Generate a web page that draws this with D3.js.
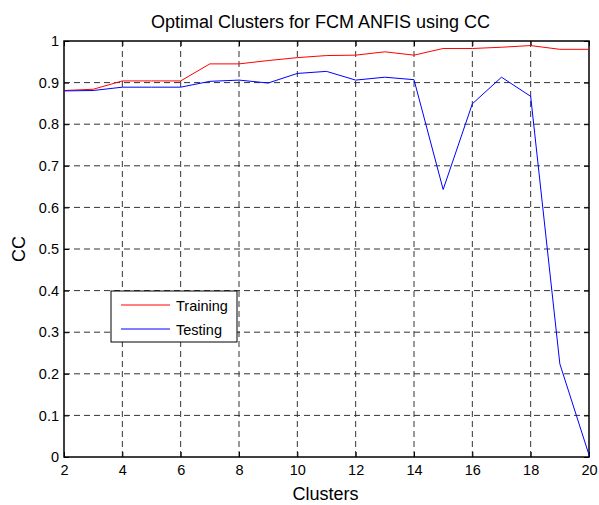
<!DOCTYPE html>
<html><head><meta charset="utf-8">
<script src="https://cdn.jsdelivr.net/npm/d3@7"></script>
<style>body{margin:0;background:#fff}svg{display:block}text{font-family:"Liberation Sans",Arial,sans-serif}</style>
</head><body>
<svg id="c" width="599" height="505"></svg>
<script>
const clusters = [2,3,4,5,6,7,8,9,10,11,12,13,14,15,16,17,18,19,20];
const training = [0.881,0.884,0.904,0.904,0.904,0.945,0.945,0.953,0.960,0.965,0.966,0.974,0.966,0.982,0.982,0.985,0.989,0.980,0.980];
const testing  = [0.880,0.881,0.889,0.889,0.889,0.903,0.906,0.899,0.922,0.927,0.906,0.913,0.907,0.643,0.849,0.913,0.867,0.224,0.005];
const xTicks = [2,4,6,8,10,12,14,16,18,20];
const yTicks = [0,0.1,0.2,0.3,0.4,0.5,0.6,0.7,0.8,0.9,1];

const svg = d3.select("#c");
const L=64, R=589, T=41, B=457;
const x = d3.scaleLinear().domain([2,20]).range([L,R]);
const y = d3.scaleLinear().domain([0,1]).range([B,T]);

// grid
const g = svg.append("g");
g.selectAll(".gx").data(xTicks.slice(1,-1)).join("line")
  .attr("x1",d=>x(d)).attr("x2",d=>x(d)).attr("y1",T).attr("y2",B)
  .attr("stroke","#333").attr("stroke-width",1).attr("stroke-dasharray","6,4");
g.selectAll(".gy").data(yTicks.slice(1,-1)).join("line")
  .attr("x1",L).attr("x2",R).attr("y1",d=>y(d)).attr("y2",d=>y(d))
  .attr("stroke","#333").attr("stroke-width",1).attr("stroke-dasharray","6,4");

// axes
const fmtY = d=>d===0||d===1?String(d):d3.format(".1f")(d);
const ax = svg.append("g").attr("transform",`translate(0,${B})`)
  .call(d3.axisBottom(x).tickValues(xTicks).tickSizeInner(-5).tickSizeOuter(0).tickPadding(8));
const ay = svg.append("g").attr("transform",`translate(${L},0)`)
  .call(d3.axisLeft(y).tickValues(yTicks).tickFormat(fmtY).tickSizeInner(-5).tickSizeOuter(0).tickPadding(5));
const axT = svg.append("g").attr("transform",`translate(0,${T})`)
  .call(d3.axisTop(x).tickValues(xTicks).tickFormat("").tickSizeInner(-5).tickSizeOuter(0));
const ayR = svg.append("g").attr("transform",`translate(${R},0)`)
  .call(d3.axisRight(y).tickValues(yTicks).tickFormat("").tickSizeInner(-5).tickSizeOuter(0));
[ax,ay,axT,ayR].forEach(a=>{
  a.selectAll(".domain").remove();
  a.selectAll("line").attr("stroke","#000");
  a.selectAll("text").attr("font-size",14.5).attr("fill","#000").attr("font-family","Liberation Sans, Arial, sans-serif");
});
svg.append("rect").attr("x",L).attr("y",T).attr("width",R-L).attr("height",B-T)
  .attr("fill","none").attr("stroke","#000").attr("stroke-width",1.5);

// lines
const line = d3.line().x((d,i)=>x(clusters[i])).y(d=>y(d));
svg.append("path").datum(training).attr("d",line).attr("fill","none").attr("stroke","#ff0000").attr("stroke-width",1);
svg.append("path").datum(testing).attr("d",line).attr("fill","none").attr("stroke","#0000ff").attr("stroke-width",1);

// labels
svg.append("text").attr("x",320.5).attr("y",28).attr("text-anchor","middle").attr("font-size",18).text("Optimal Clusters for FCM ANFIS using CC");
svg.append("text").attr("x",325.5).attr("y",500).attr("text-anchor","middle").attr("font-size",18).text("Clusters");
svg.append("text").attr("transform",`translate(25,${(T+B)/2}) rotate(-90)`).attr("text-anchor","middle").attr("font-size",18).text("CC");

// legend
const lg = svg.append("g");
lg.append("rect").attr("x",111).attr("y",291).attr("width",126).attr("height",51).attr("fill","#fff").attr("stroke","#000").attr("stroke-width",1);
const items=[["Training","#ff0000",305],["Testing","#0000ff",329]];
items.forEach(([t,c,yy])=>{
  lg.append("line").attr("x1",121).attr("x2",170).attr("y1",yy).attr("y2",yy).attr("stroke",c).attr("stroke-width",1);
  lg.append("text").attr("x",176).attr("y",yy+5.5).attr("font-size",14.5).text(t);
});
</script>
</body></html>
